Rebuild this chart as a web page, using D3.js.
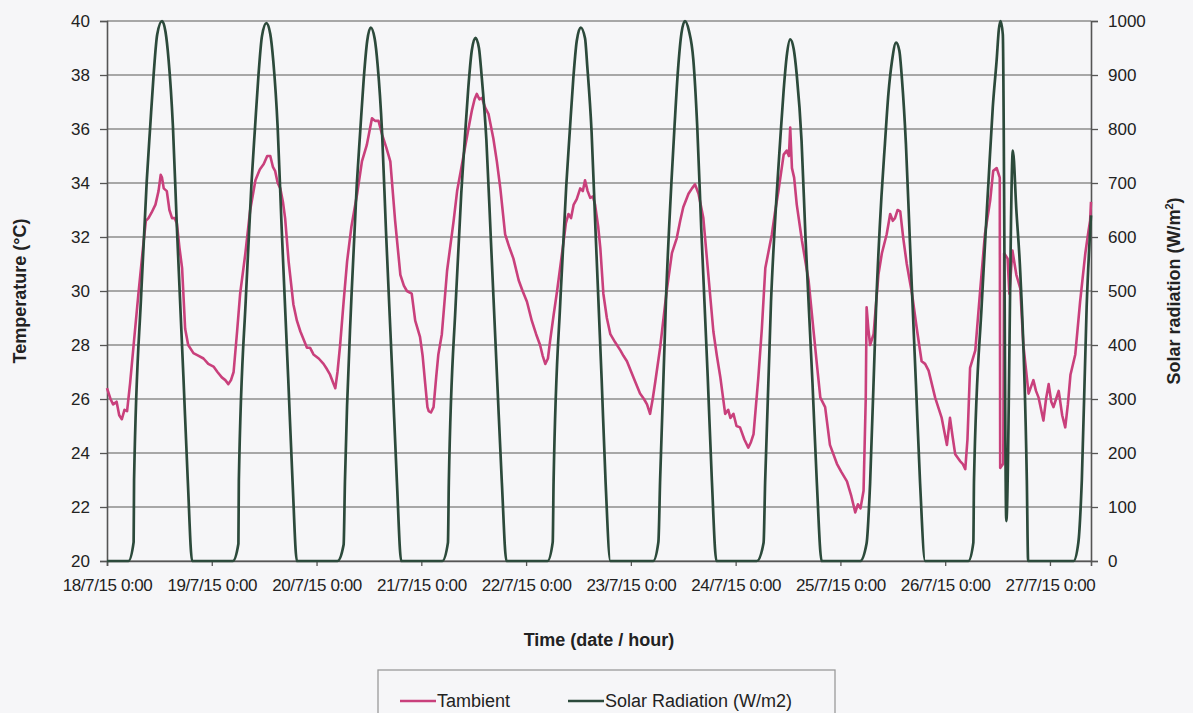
<!DOCTYPE html>
<html>
<head>
<meta charset="utf-8">
<script src="https://cdn.jsdelivr.net/npm/d3@7"></script>
<style>
  html, body { margin: 0; padding: 0; background: #f6f6f8; }
  svg { display: block; font-family: "Liberation Sans", Arial, sans-serif; }
</style>
</head>
<body>
<svg id="chart" width="1193" height="713"></svg>
<script>
// Date labels on the time axis (one per day, at midnight)
const dayLabels = ["18/7/15 0:00", "19/7/15 0:00", "20/7/15 0:00", "21/7/15 0:00", "22/7/15 0:00",
                   "23/7/15 0:00", "24/7/15 0:00", "25/7/15 0:00", "26/7/15 0:00", "27/7/15 0:00"];
const tempTicks = [20, 22, 24, 26, 28, 30, 32, 34, 36, 38, 40];
const solarTicks = [0, 100, 200, 300, 400, 500, 600, 700, 800, 900, 1000];
// Hours covered by the record, counted from 18/7/15 0:00
const recordHours = 225.4;

// Ambient temperature, [hours since 18/7/15 0:00, °C]
const tambient = [
  [0,26.4],[0.8,26.0],[1.4,25.8],[2.2,25.9],[2.8,25.4],[3.4,25.25],[4.0,25.6],[4.6,25.55],[5.3,26.6],[6.1,28.0],
  [7.2,29.9],[8.4,31.85],[8.9,32.6],[9.5,32.7],[10.2,32.9],[11.1,33.2],[11.8,33.7],[12.3,34.3],[12.6,34.2],[13.0,33.8],
  [13.7,33.7],[14.3,33.0],[14.9,32.7],[15.5,32.7],[16.0,32.5],[16.6,31.6],[17.2,30.85],[17.9,28.6],[18.6,28.0],[19.8,27.7],
  [21.0,27.6],[22.1,27.5],[23.2,27.3],[24.4,27.2],[25.3,27.0],[26.3,26.8],[27.1,26.7],[27.8,26.55],[28.4,26.7],[29.0,27.0],
  [29.8,28.5],[30.5,29.9],[31.7,31.4],[32.8,33.0],[34.0,34.1],[35.0,34.5],[35.9,34.7],[36.7,35.0],[37.4,35.0],[38.0,34.6],
  [38.5,34.45],[39.1,34.0],[39.7,33.8],[40.3,33.3],[40.8,32.7],[41.6,31.1],[42.7,29.5],[43.5,28.9],[44.3,28.5],[45.8,27.9],
  [46.5,27.9],[47.3,27.65],[48.5,27.5],[49.6,27.3],[50.4,27.1],[51.1,26.9],[51.8,26.6],[52.3,26.4],[52.8,27.0],[53.4,28.0],
  [54.2,29.6],[55.0,31.1],[56.0,32.4],[57.3,33.6],[58.4,34.8],[59.5,35.4],[60.1,35.9],[60.7,36.4],[61.4,36.3],[62.2,36.3],
  [63.0,35.8],[64.0,35.3],[64.9,34.8],[66.0,32.6],[67.2,30.6],[68.0,30.2],[68.7,30.0],[69.8,29.9],[70.6,28.9],[71.7,28.3],
  [72.3,27.6],[72.9,26.55],[73.4,25.7],[73.7,25.55],[74.2,25.5],[74.8,25.7],[75.4,26.8],[75.9,27.65],[76.7,28.4],[77.9,30.75],
  [79.4,32.6],[80.2,33.7],[81.1,34.5],[82.1,35.4],[82.9,36.1],[83.6,36.7],[84.2,37.1],[84.7,37.3],[85.3,37.1],[85.9,37.15],
  [86.6,36.8],[87.4,36.55],[88.5,35.65],[89.3,34.8],[90.1,33.8],[91.2,32.1],[92.2,31.6],[93.1,31.2],[94.3,30.4],[95.2,30.0],
  [96.2,29.6],[97.3,28.9],[98.3,28.4],[99.2,28.0],[99.8,27.6],[100.4,27.3],[101.0,27.5],[101.5,28.15],[102.3,29.1],[103.1,30.0],
  [104.6,31.85],[105.1,32.5],[105.7,32.85],[106.3,32.7],[106.9,33.2],[107.6,33.4],[108.4,33.8],[109.0,33.7],[109.5,34.1],[110.1,33.7],
  [110.7,33.45],[111.3,33.5],[111.8,33.2],[112.5,32.4],[113.0,31.6],[113.7,29.9],[114.5,29.0],[115.3,28.4],[116.4,28.1],[117.6,27.8],
  [118.3,27.6],[119.1,27.4],[120.6,26.8],[122.1,26.2],[123.0,26.0],[123.7,25.8],[124.4,25.45],[125.0,26.0],[125.6,26.65],[126.7,27.9],
  [128.2,30.0],[129.4,31.4],[130.5,31.95],[131.3,32.6],[132.0,33.1],[133.2,33.6],[134.0,33.8],[134.7,33.95],[135.5,33.6],[136.6,32.7],
  [137.8,30.5],[138.9,28.5],[139.7,27.6],[140.5,26.8],[141.6,25.45],[142.3,25.6],[142.8,25.3],[143.5,25.45],[144.2,25.0],[145.0,24.95],
  [146.0,24.5],[146.9,24.2],[147.5,24.4],[148.1,24.7],[149.2,26.8],[150.0,28.6],[150.8,30.85],[152.3,32.1],[153.0,32.9],[153.8,33.7],
  [155.0,35.05],[155.7,35.2],[156.2,35.0],[156.5,36.05],[156.9,34.55],[157.4,34.2],[158.0,33.2],[159.2,31.85],[160.7,30.4],[161.8,28.6],
  [162.6,27.3],[163.4,26.05],[164.5,25.7],[165.6,24.3],[167.2,23.6],[168.2,23.3],[169.5,22.95],[170.5,22.4],[171.4,21.8],[172.0,22.1],
  [172.6,21.95],[173.3,22.6],[173.8,26.0],[174.0,29.4],[174.4,28.6],[174.8,28.0],[175.6,28.4],[176.7,30.6],[177.5,31.4],[178.6,32.1],
  [179.4,32.85],[180.0,32.6],[180.5,32.7],[181.1,33.0],[181.7,32.95],[182.4,31.95],[183.2,31.0],[184.4,29.9],[185.5,28.6],[186.6,27.4],
  [187.4,27.3],[188.2,27.05],[189.7,26.05],[191.2,25.3],[192.4,24.3],[193.1,25.3],[193.7,24.6],[194.3,23.95],[195.4,23.7],[196.0,23.6],
  [196.6,23.4],[197.1,24.5],[197.7,27.15],[198.9,27.8],[200.0,30.0],[201.1,32.1],[202.3,33.35],[203.0,34.45],[203.8,34.55],[204.5,34.2],
  [204.6,23.45],[205.3,23.6],[205.5,31.4],[206.3,31.2],[206.7,29.9],[207.4,31.5],[208.3,30.6],[209.2,30.1],[209.9,28.0],[211.1,26.2],
  [212.2,26.7],[212.8,26.3],[213.4,26.05],[214.5,25.2],[215.1,26.0],[215.7,26.55],[216.3,25.9],[216.8,25.7],[217.4,26.0],[218.0,26.3],
  [218.8,25.4],[219.5,24.95],[220.1,25.8],[220.7,26.9],[221.8,27.65],[222.9,29.6],[224.1,31.4],[224.8,32.2],[225.2,32.6],[225.4,33.3]
];

// Global solar radiation, [hours since 18/7/15 0:00, W/m2]
const solarRadiation = [
  [0,0],
  [4.9,0],[6.1,35],[6.2,150],[7.85,497],[9.1,703],[9.9,805],[10.7,903],[11.5,975],[12.6,1000],[13.4,980],[14.1,929],[15.1,805],[16.0,620],[17.5,342],[18.5,150],[19.5,0],
  [28.8,0],[30.1,32],[30.2,148],[31.85,495],[33.1,700],[33.9,802],[34.7,900],[35.5,972],[36.5,996],[37.4,976],[38.1,925],[39.1,802],[40.0,618],[41.5,340],[42.5,148],[43.5,0],
  [52.8,0],[54.2,30],[54.5,146],[56.0,490],[57.2,695],[58.0,795],[58.8,892],[59.6,963],[60.4,988],[61.3,968],[62.0,918],[63.0,795],[63.9,612],[65.4,338],[66.4,148],[67.4,0],
  [76.8,0],[78.1,34],[78.3,145],[79.9,482],[81.15,681],[81.95,780],[82.75,875],[83.55,945],[84.4,969],[85.2,950],[85.8,900],[86.9,780],[87.9,601],[89.4,331],[90.45,145],[91.5,0],
  [100.9,0],[102.1,35],[102.3,148],[103.9,491],[105.2,695],[106.0,795],[106.8,892],[107.6,963],[108.5,988],[109.5,968],[110.0,918],[111.0,795],[111.9,612],[113.3,338],[114.2,148],[115.3,0],
  [125.1,0],[126.3,35],[126.7,150],[128.1,497],[129.3,703],[130.0,805],[130.8,910],[131.6,978],[132.4,1000],[133.3,982],[134.3,929],[135.2,805],[136.1,620],[137.6,342],[138.55,150],[139.6,0],
  [148.85,0],[150.4,34],[150.75,145],[152.1,480],[153.4,679],[154.2,778],[155.0,872],[155.7,935],[156.5,966],[157.3,948],[158.0,900],[159.1,778],[160.0,599],[161.6,330],[162.6,145],[163.7,0],
  [172.5,0],[174.0,33],[174.8,144],[176.2,477],[177.4,675],[178.2,773],[179.0,866],[179.8,925],[180.75,960],[181.5,945],[182.1,892],[183.0,773],[183.9,595],[185.3,328],[186.25,144],[187.4,0],
  [197.3,0],[198.45,34],[198.6,150],[200.4,480],[201.9,700],[202.9,840],[203.8,929],[204.3,985],[204.7,1000],[205.2,975],[206.0,74],[207.5,760],[208.3,650],[209.2,534],[210.7,150],[211.0,0],
  [221.4,0],[222.5,34],[223.3,150],[224.4,470],[225.4,640]
];

const svg = d3.select("#chart");
const margin = { left: 107, right: 1091, top: 21, bottom: 561 };

const x = d3.scaleLinear().domain([0, recordHours]).range([margin.left, margin.right]);
const yT = d3.scaleLinear().domain([20, 40]).range([margin.bottom, margin.top]);
const yS = d3.scaleLinear().domain([0, 1000]).range([margin.bottom, margin.top]);

const gridColor = "#8c8c8c";
const axisColor = "#555";
const textColor = "#222";
const tempColor = "#c9407c";
const solarColor = "#2c4a3b";

// Horizontal gridlines at every temperature tick
svg.append("g")
  .selectAll("line")
  .data(tempTicks)
  .join("line")
  .attr("x1", margin.left).attr("x2", margin.right)
  .attr("y1", d => yT(d)).attr("y2", d => yT(d))
  .attr("stroke", gridColor).attr("stroke-width", 1.3);

// Left temperature axis
const leftAxis = svg.append("g")
  .attr("transform", `translate(${margin.left},0)`)
  .call(d3.axisLeft(yT).tickValues(tempTicks).tickSize(7).tickPadding(10).tickFormat(d3.format("d")));
// Right solar axis
const rightAxis = svg.append("g")
  .attr("transform", `translate(${margin.right},0)`)
  .call(d3.axisRight(yS).tickValues(solarTicks).tickSize(7).tickPadding(10).tickFormat(d3.format("d")));
// Bottom time axis with a tick at each midnight
const dayTicks = dayLabels.map((_, i) => i * 24);
const bottomAxis = svg.append("g")
  .attr("transform", `translate(0,${margin.bottom})`)
  .call(d3.axisBottom(x).tickValues(dayTicks).tickSize(5).tickPadding(13)
    .tickFormat((d, i) => dayLabels[i]));

[leftAxis, rightAxis, bottomAxis].forEach(g => {
  g.select(".domain").attr("stroke", axisColor).attr("stroke-width", 1.6);
  g.selectAll(".tick line").attr("stroke", axisColor).attr("stroke-width", 1.3);
  g.selectAll(".tick text").attr("fill", textColor).style("font-size", "17px");
});
bottomAxis.selectAll(".tick text").style("letter-spacing", "-0.4px");

// Series lines
const tempLine = d3.line().x(d => x(d[0])).y(d => yT(d[1]));
const solarLine = d3.line().curve(d3.curveMonotoneX).x(d => x(d[0])).y(d => yS(d[1]));

svg.append("path")
  .datum(tambient)
  .attr("d", tempLine)
  .attr("fill", "none")
  .attr("stroke", tempColor)
  .attr("stroke-width", 2.6)
  .attr("stroke-linejoin", "round");

svg.append("path")
  .datum(solarRadiation)
  .attr("d", solarLine)
  .attr("fill", "none")
  .attr("stroke", solarColor)
  .attr("stroke-width", 2.7)
  .attr("stroke-linejoin", "round");

// Axis titles
svg.append("text")
  .attr("transform", `translate(26,${(margin.top + margin.bottom) / 2}) rotate(-90)`)
  .attr("text-anchor", "middle")
  .style("font-size", "18px").style("font-weight", "bold").attr("fill", textColor)
  .text("Temperature (°C)");

const rightTitle = svg.append("text")
  .attr("transform", `translate(1180,${(margin.top + margin.bottom) / 2}) rotate(-90)`)
  .attr("text-anchor", "middle")
  .style("font-size", "18px").style("font-weight", "bold").attr("fill", textColor);
rightTitle.append("tspan").text("Solar radiation (W/m");
rightTitle.append("tspan").attr("dy", -7).style("font-size", "11px").text("2");
rightTitle.append("tspan").attr("dy", 7).text(")");

svg.append("text")
  .attr("x", (margin.left + margin.right) / 2).attr("y", 646)
  .attr("text-anchor", "middle")
  .style("font-size", "18px").style("font-weight", "bold").attr("fill", textColor)
  .text("Time (date / hour)");

// Legend
const legend = svg.append("g");
legend.append("rect")
  .attr("x", 378).attr("y", 670).attr("width", 457).attr("height", 60)
  .attr("fill", "none").attr("stroke", "#9a9a9a").attr("stroke-width", 1.3);
const legendItems = [
  { label: "Tambient", color: tempColor, x0: 400 },
  { label: "Solar Radiation (W/m2)", color: solarColor, x0: 568 }
];
legendItems.forEach(item => {
  legend.append("line")
    .attr("x1", item.x0).attr("x2", item.x0 + 36)
    .attr("y1", 701).attr("y2", 701)
    .attr("stroke", item.color).attr("stroke-width", 2.6);
  legend.append("text")
    .attr("x", item.x0 + 37).attr("y", 707)
    .style("font-size", "18px").attr("fill", textColor)
    .text(item.label);
});
</script>
</body>
</html>
